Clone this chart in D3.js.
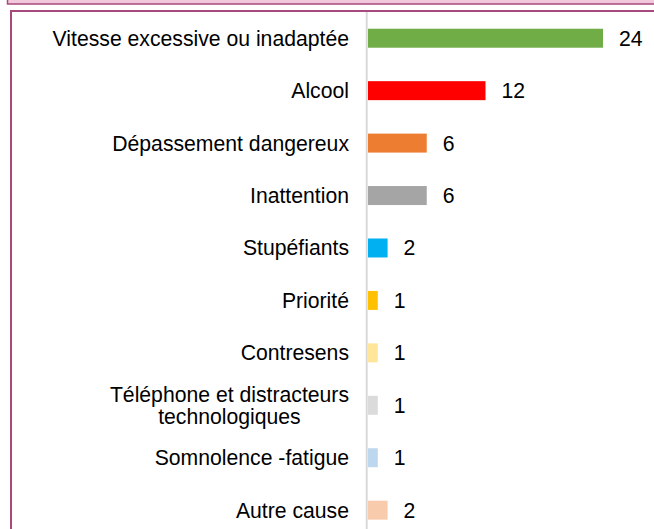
<!DOCTYPE html>
<html>
<head>
<meta charset="utf-8">
<script src="https://cdn.jsdelivr.net/npm/d3@7"></script>
<style>
  html, body { margin: 0; padding: 0; background: #fff; }
  svg { display: block; }
  text { font-family: Arial, "Liberation Sans", Helvetica, sans-serif; fill: #000; }
</style>
</head>
<body>
<svg id="chart" width="654" height="529"></svg>
<script>
// Causes principales des accidents mortels
const categories = [
  "Vitesse excessive ou inadaptée",
  "Alcool",
  "Dépassement dangereux",
  "Inattention",
  "Stupéfiants",
  "Priorité",
  "Contresens",
  "Téléphone et distracteurs technologiques",
  "Somnolence -fatigue",
  "Autre cause"
];
const labelLines = [
  ["Vitesse excessive ou inadaptée"],
  ["Alcool"],
  ["Dépassement dangereux"],
  ["Inattention"],
  ["Stupéfiants"],
  ["Priorité"],
  ["Contresens"],
  ["Téléphone et distracteurs", "technologiques"],
  ["Somnolence -fatigue"],
  ["Autre cause"]
];
const values = [24, 12, 6, 6, 2, 1, 1, 1, 1, 2];
const colors = [
  "#70ad47", "#ff0000", "#ed7d31", "#a5a5a5", "#00b0f0",
  "#ffc000", "#ffe699", "#dbdbdb", "#bdd7ee", "#f8cbad"
];

const svg = d3.select("#chart");
const W = 654, H = 529;
const border = "#a8497c";
const fs = 21.2;

// Bottom edge of the preceding panel
svg.append("rect")
  .attr("x", 7.5).attr("y", -20)
  .attr("width", 700).attr("height", 24)
  .attr("fill", "#f2c9dc")
  .attr("stroke", border).attr("stroke-width", 1.5);

// Panel frame
svg.append("rect")
  .attr("x", 11).attr("y", 11)
  .attr("width", 700).attr("height", 600)
  .attr("fill", "#fff")
  .attr("stroke", border).attr("stroke-width", 2);

const x0 = 368;
const x = d3.scaleLinear().domain([0, 24]).range([x0, 603]);
const y = d3.scaleBand().domain(categories).range([12, 12 + 10 * 52.44]).paddingInner(0.638).paddingOuter(0.319);

// Category axis line
svg.append("line")
  .attr("x1", x0 - 1.3).attr("x2", x0 - 1.3)
  .attr("y1", 12).attr("y2", H)
  .attr("stroke", "#d9d9d9").attr("stroke-width", 2);

// Bars
svg.selectAll("rect.bar")
  .data(values)
  .join("rect")
  .attr("class", "bar")
  .attr("x", x(0))
  .attr("y", (d, i) => y(categories[i]))
  .attr("width", d => x(d) - x(0))
  .attr("height", y.bandwidth())
  .attr("fill", (d, i) => colors[i]);

// Value labels
svg.selectAll("text.val")
  .data(values)
  .join("text")
  .attr("class", "val")
  .attr("x", d => x(d) + 16)
  .attr("y", (d, i) => y(categories[i]) + y.bandwidth() / 2 + 7.5)
  .attr("font-size", fs)
  .text(d => d);

// Category labels
const lineH = 22;
categories.forEach((c, i) => {
  const cy = y(c) + y.bandwidth() / 2;
  const lines = labelLines[i];
  const g = svg.append("text")
    .attr("font-size", fs)
    .attr("text-anchor", lines.length > 1 ? "middle" : "end");
  if (lines.length === 1) {
    g.attr("x", 349).attr("y", cy + 7.5).text(lines[0]);
  } else {
    const tmp = g.append("tspan").text(lines[0]);
    const w = tmp.node().getComputedTextLength();
    tmp.remove();
    const cx = 349 - w / 2;
    lines.forEach((ln, k) => {
      g.append("tspan")
        .attr("x", cx)
        .attr("y", cy + 7.5 + (k - (lines.length - 1) / 2) * lineH)
        .text(ln);
    });
  }
});
</script>
</body>
</html>
